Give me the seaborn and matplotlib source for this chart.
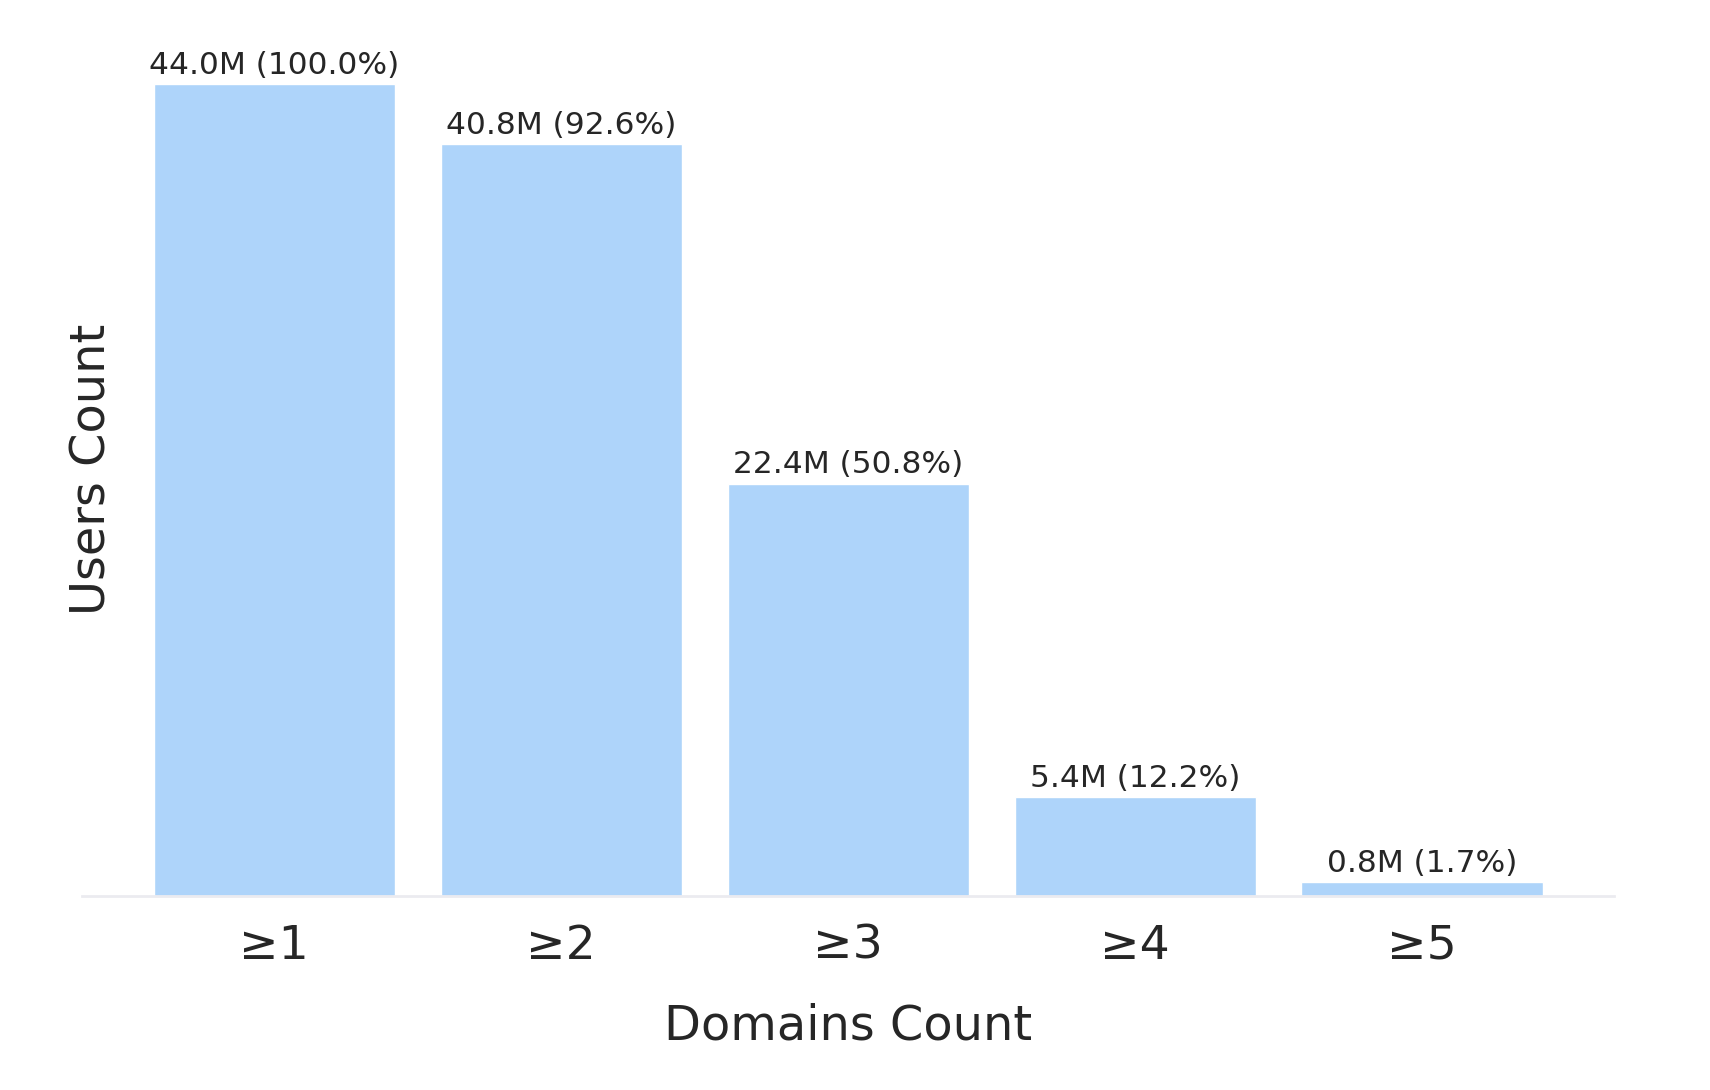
import numpy as np
import pandas as pd
import matplotlib
matplotlib.use('Agg')
import matplotlib.pyplot as plt
import seaborn as sns

sns.set_style("white")
plt.rcParams['font.family'] = ['DejaVu Sans']

domain_bins = ['≥1', '≥2', '≥3', '≥4', '≥5']
users_millions = [44.0, 40.75, 22.35, 5.37, 0.75]

df = pd.DataFrame({'domains': domain_bins, 'users': users_millions})
total = users_millions[0]

fig, ax = plt.subplots(figsize=(17.1, 10.9), dpi=100)
fig.subplots_adjust(left=0.048, right=0.944, bottom=0.178, top=0.96)

sns.barplot(data=df, x='domains', y='users', color='#aed4fa', saturation=1,
            width=0.84, ax=ax)

for rect, v in zip(ax.patches, users_millions):
    ax.annotate(f'{v:.1f}M ({v / total * 100:.1f}%)',
                xy=(rect.get_x() + rect.get_width() / 2, rect.get_height()),
                xytext=(0, 3), textcoords='offset points', ha='center', va='bottom',
                fontsize=22.5, color='#262626')

ax.set_xlim(-0.67, 4.67)
ax.set_ylim(0, total * 1.05)
ax.set_yticks([])
ax.tick_params(axis='x', length=0, labelsize=34, colors='#262626', pad=20)
ax.set_xlabel('Domains Count', fontsize=34.5, color='#262626', labelpad=24)
ax.set_ylabel('Users Count', fontsize=34.5, color='#262626', labelpad=-24)

for side in ['top', 'right', 'left']:
    ax.spines[side].set_visible(False)
ax.spines['bottom'].set_color('#ebebf0')
ax.spines['bottom'].set_linewidth(2)

plt.savefig('out.png', dpi=100)
plt.close()
